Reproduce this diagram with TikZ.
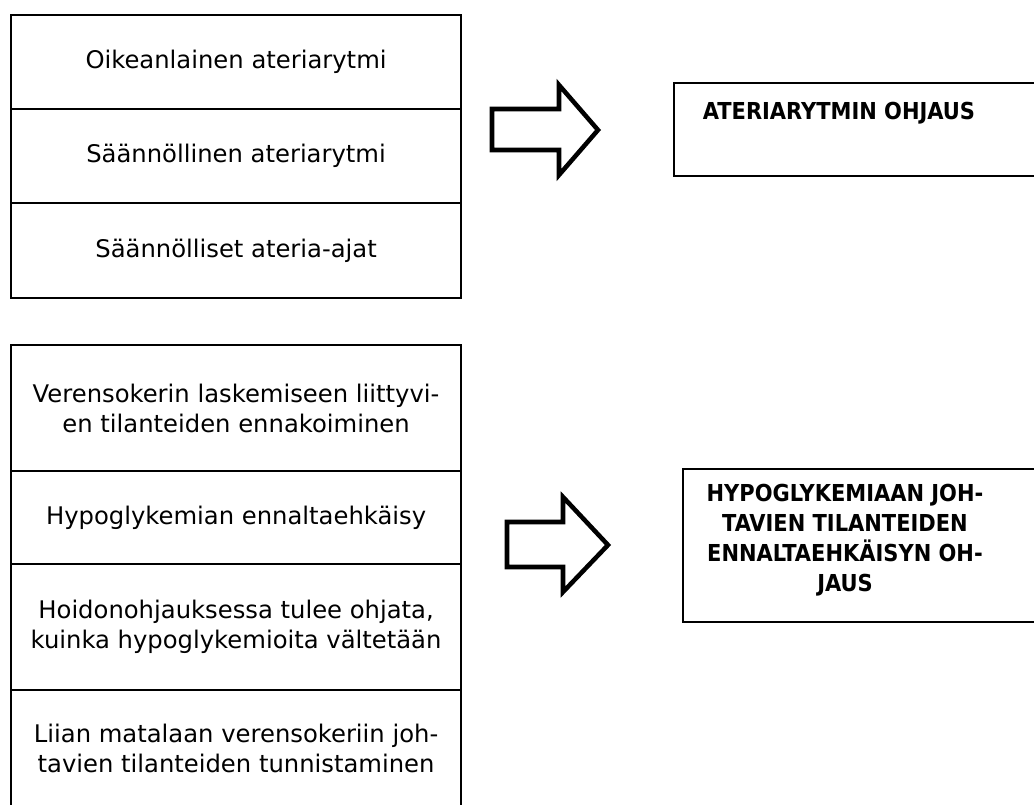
\documentclass[tikz,border=0pt]{standalone}
\usepackage{fontspec}
\setmainfont{DejaVu Sans}
\newfontfamily\goalfont{DejaVu Sans Condensed}
\begin{document}
\begin{tikzpicture}[x=0.75pt,y=-0.75pt,
  every node/.style={font=\fontsize{18.2pt}{22.5pt}\selectfont, inner sep=0pt},
  rowbox/.style={draw, line width=1.6pt, anchor=north west, minimum width=337.5pt, align=center},
  goalbox/.style={draw, line width=0.8pt},
  goaltext/.style={font=\goalfont\bfseries\fontsize{17.5pt}{22.5pt}\selectfont, align=center},
  blockarrow/.style={draw, line width=3.4pt, fill=white, line join=miter}]
\useasboundingbox (0,0) rectangle (1034,805);
\clip (0,0) rectangle (1034,805);

% upper group: meal rhythm
\node[rowbox, minimum height=70.5pt] (a1) at (10,14) {Oikeanlainen ateriarytmi};
\node[rowbox, minimum height=70.5pt] (a2) at (10,108) {Säännöllinen ateriarytmi};
\node[rowbox, minimum height=71.25pt] (a3) at (10,202) {Säännölliset ateria-ajat};

\draw[blockarrow] (492,109) -- (559,109) -- (559,85) -- (598,130) -- (559,175) -- (559,150) -- (492,150) -- cycle;

\draw[goalbox] (674,83) rectangle (1045,176);
\node[goaltext] (g1) at (839,113) {ATERIARYTMIN OHJAUS};

% lower group: preventing hypoglycaemia
\node[rowbox, minimum height=94.5pt] (b1) at (10,344) {Verensokerin laskemiseen liittyvi-\\en tilanteiden ennakoiminen};
\node[rowbox, minimum height=69.75pt] (b2) at (10,470) {Hypoglykemian ennaltaehkäisy};
\node[rowbox, minimum height=94.5pt] (b3) at (10,563) {Hoidonohjauksessa tulee ohjata,\\kuinka hypoglykemioita vältetään};
\node[rowbox, minimum height=87.75pt] (b4) at (10,689) {Liian matalaan verensokeriin joh-\\tavien tilanteiden tunnistaminen};

\draw[blockarrow] (507,522) -- (563,522) -- (563,497) -- (608,545) -- (563,592) -- (563,567) -- (507,567) -- cycle;

\draw[goalbox] (683,469) rectangle (1045,622);
\node[goaltext] (g2) at (845,540) {HYPOGLYKEMIAAN JOH-\\TAVIEN TILANTEIDEN\\ENNALTAEHKÄISYN OH-\\JAUS};
\end{tikzpicture}
\end{document}
